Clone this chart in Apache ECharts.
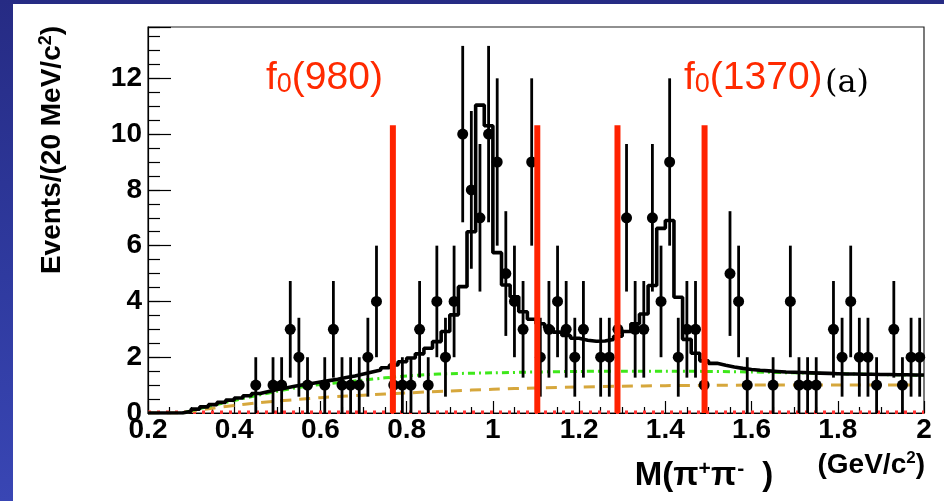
<!DOCTYPE html>
<html><head><meta charset="utf-8">
<script src="https://cdn.jsdelivr.net/npm/echarts/dist/echarts.min.js"></script>
<style>
html,body{margin:0;padding:0;}
body{width:944px;height:501px;overflow:hidden;position:relative;background:linear-gradient(180deg,#262b84 0%,#2f3a9f 55%,#3946b4 100%);}
#panel{position:absolute;left:13px;top:4px;width:931px;height:497px;background:#fff;}
#chart{position:absolute;left:0;top:0;width:944px;height:501px;}
</style></head>
<body><div id="panel"></div><div id="chart"></div>
<script>
// ---- data ----
const binWidth = 0.02;
const xMin = 0.2, xMax = 2.0;
const yMax = 13.84;
const xTickLabels = ['0.2','0.4','0.6','0.8','1','1.2','1.4','1.6','1.8','2'];
const yTickLabels = ['0','2','4','6','8','10','12'];
// measured points (bin centres, events per bin)
const dataX = [0.45,0.49,0.51,0.53,0.55,0.57,0.61,0.63,0.65,0.67,0.69,0.71,0.73,0.77,0.79,0.81,0.83,0.85,0.87,0.89,0.91,0.93,0.95,0.97,0.99,1.01,1.03,1.05,1.07,1.09,1.11,1.13,1.15,1.17,1.19,1.21,1.25,1.27,1.29,1.31,1.33,1.35,1.37,1.39,1.41,1.43,1.45,1.47,1.49,1.55,1.57,1.59,1.65,1.69,1.71,1.73,1.75,1.79,1.81,1.83,1.85,1.87,1.89,1.93,1.95,1.97,1.99];
const dataY = [1,1,1,3,2,1,1,3,1,1,1,2,4,1,1,1,3,1,4,2,4,10,8,7,10,9,5,4,3,9,2,3,4,3,2,3,2,2,3,7,3,3,7,4,9,2,3,3,1,5,4,1,1,4,1,1,1,3,2,4,2,2,1,3,1,2,2];
// total fit, one value per 20 MeV bin from 0.20 to 2.00
const fitTotal = [0,0,0,0,0.06,0.14,0.22,0.30,0.38,0.46,0.54,0.62,0.70,0.77,0.84,0.90,0.96,1.01,1.06,1.11,
  1.16,1.21,1.27,1.33,1.40,1.47,1.54,1.62,1.72,1.84,1.97,2.12,2.32,2.56,2.92,3.52,4.53,6.5,11.04,10.3,
  5.75,4.59,4.17,3.63,3.36,3.2,3.05,2.9,2.78,2.68,2.61,2.57,2.58,2.64,2.75,2.92,3.2,3.55,4.57,6.62,
  6.9,4.15,2.64,2.14,1.87,1.78,1.71,1.65,1.60,1.56,1.53,1.51,1.49,1.47,1.46,1.45,1.44,1.43,1.42,1.41,
  1.40,1.40,1.39,1.39,1.38,1.38,1.37,1.37,1.36,1.36];
// green dash-dot component
const bkgX = [0.28,0.30,0.35,0.40,0.45,0.50,0.55,0.60,0.65,0.70,0.75,0.80,0.85,0.90,1.00,1.10,1.20,1.30,1.40,1.50,1.60,1.70,1.80,1.90,2.00];
const bkgY = [0,0.08,0.27,0.45,0.62,0.78,0.92,1.02,1.10,1.18,1.26,1.33,1.38,1.41,1.44,1.47,1.49,1.50,1.50,1.49,1.47,1.44,1.41,1.38,1.35];
// gold dashed component
const nrX = [0.20,0.27,0.30,0.35,0.40,0.45,0.50,0.55,0.60,0.65,0.70,0.75,0.80,0.90,1.00,1.10,1.20,1.30,1.40,1.50,1.60,1.70,1.80,1.97];
const nrY = [0,0,0.06,0.17,0.27,0.36,0.43,0.49,0.55,0.60,0.64,0.68,0.72,0.79,0.85,0.90,0.93,0.96,0.98,0.99,1.0,1.0,1.0,1.0];
// red dotted component (flat at zero)
const zeroX = [0.20,2.00];
const zeroY = [0.03,0.03];
// red vertical region markers
const regionX = [0.768,1.103,1.289,1.491];
const regionTop = 10.32;

// ---- build ----
const FONT = 'Liberation Sans';
const pts = dataX.map((x,i)=>[x,dataY[i]]);
const errs = dataX.map((x,i)=>[x,dataY[i]-Math.sqrt(dataY[i]),dataY[i]+Math.sqrt(dataY[i])]);
const fitData = fitTotal.map((v,i)=>[xMin+i*binWidth, v]);
fitData.push([xMax, fitTotal[fitTotal.length-1]]);
const bkgData = bkgX.map((x,i)=>[x,bkgY[i]]);
const nrData = nrX.map((x,i)=>[x,nrY[i]]);
const zeroData = zeroX.map((x,i)=>[x,zeroY[i]]);
const regionData = regionX.map(x=>[x,0,regionTop]);

const chart = echarts.init(document.getElementById('chart'), null, {renderer:'canvas'});
const vline = (color,w)=> (params, api) => {
  const a = api.coord([api.value(0), api.value(1)]);
  const b = api.coord([api.value(0), api.value(2)]);
  return {type:'line', shape:{x1:a[0],y1:a[1],x2:b[0],y2:b[1]}, style:{stroke:color, lineWidth:w, lineCap:'butt', opacity:1}};
};
const option = {
  animation:false,
  backgroundColor:'transparent',
  grid:{left:148,right:20,top:27,bottom:88,containLabel:false,show:true,borderColor:'#222',borderWidth:1.2,backgroundColor:'transparent'},
  xAxis:{type:'value',min:xMin,max:xMax,interval:0.2,
    axisLine:{show:true,onZero:false,lineStyle:{color:'#000',width:1.2}},
    axisTick:{show:true,inside:true,length:12,lineStyle:{color:'#000',width:1.2}},
    minorTick:{show:true,splitNumber:4,length:6,lineStyle:{color:'#000',width:1.2}},
    splitLine:{show:false},
    axisLabel:{margin:3,color:'#000',fontFamily:FONT,fontWeight:'bold',fontSize:28,
      formatter:(v)=>{const i=Math.round((v-xMin)/0.2);return Math.abs(v-(xMin+i*0.2))<1e-6&&xTickLabels[i]!==undefined?xTickLabels[i]:'';}}
  },
  yAxis:[{type:'value',min:0,max:yMax,interval:2,
    axisLine:{show:true,lineStyle:{color:'#000',width:1.2}},
    axisTick:{show:true,inside:true,length:23,lineStyle:{color:'#000',width:1.2}},
    splitLine:{show:false},
    axisLabel:{margin:6,color:'#000',fontFamily:FONT,fontWeight:'bold',fontSize:28,
      formatter:(v)=>{const i=Math.round(v/2);return Math.abs(v-i*2)<1e-6&&yTickLabels[i]!==undefined?yTickLabels[i]:'';}}
  },{type:'value',min:0,max:yMax,interval:0.5,position:'left',
    axisLine:{show:false},axisLabel:{show:false},splitLine:{show:false},
    axisTick:{show:true,inside:true,length:12,lineStyle:{color:'#000',width:1.2}}
  }],
  series:[
    {type:'line',data:zeroData,showSymbol:false,z:2,lineStyle:{color:'#ff3030',width:3.5,type:[3,6],opacity:1}},
    {type:'line',data:nrData,smooth:0.3,showSymbol:false,z:3,lineStyle:{color:'#d6a73c',width:3,type:[11,8],opacity:1}},
    {type:'line',data:bkgData,smooth:0.3,showSymbol:false,z:3,lineStyle:{color:'#3ee81a',width:3,type:[7,4,2,4],opacity:1}},
    {type:'line',data:fitData,step:'end',showSymbol:false,z:4,lineStyle:{color:'#000',width:3.6,opacity:1}},
    {type:'custom',data:errs,encode:{x:0,y:[1,2]},z:5,renderItem:vline('#000',2.8)},
    {type:'scatter',data:pts,symbol:'circle',symbolSize:11,z:6,itemStyle:{color:'#000',opacity:1}},
    {type:'custom',data:regionData,encode:{x:0,y:[1,2]},z:7,renderItem:vline('#ff2200',6)}
  ],
  graphic:[
    {type:'text',x:266,y:78,z:100,style:{text:'{m|f}{s|0}{m|(980)}',align:'left',verticalAlign:'middle',
      rich:{m:{fontFamily:FONT,fontSize:39,lineHeight:40,fill:'#ff2a00'},s:{fontFamily:FONT,fontSize:27,lineHeight:14,verticalAlign:'bottom',fill:'#ff2a00'}}}},
    {type:'text',x:684,y:78,z:100,style:{text:'{m|f}{s|0}{m|(1370)}',align:'left',verticalAlign:'middle',
      rich:{m:{fontFamily:FONT,fontSize:39,lineHeight:40,fill:'#ff2a00'},s:{fontFamily:FONT,fontSize:27,lineHeight:14,verticalAlign:'bottom',fill:'#ff2a00'}}}},
    {type:'text',x:825,y:84,z:100,style:{text:'(a)',align:'left',verticalAlign:'middle',fontFamily:'DejaVu Serif',fontSize:32,fill:'#000'}},
    {type:'text',x:52,y:150,rotation:Math.PI/2,z:100,style:{text:'{m|Events/(20 MeV/c}{s|2}{m|)}',align:'center',verticalAlign:'middle',
      rich:{m:{fontFamily:FONT,fontWeight:'bold',fontSize:28,lineHeight:30,fill:'#000'},s:{fontFamily:FONT,fontWeight:'bold',fontSize:18,lineHeight:14,verticalAlign:'top',fill:'#000'}}}},
    {type:'text',x:704,y:476,z:100,style:{text:'{m|M(π}{s|+}{m|π}{t|-}{m|)}',align:'center',verticalAlign:'middle',
      rich:{m:{fontFamily:FONT,fontWeight:'bold',fontSize:33,lineHeight:34,fill:'#000'},
            s:{fontFamily:FONT,fontWeight:'bold',fontSize:21,lineHeight:14,verticalAlign:'top',fill:'#000'},
            t:{fontFamily:FONT,fontWeight:'bold',fontSize:21,lineHeight:14,verticalAlign:'top',fill:'#000',padding:[0,18,0,1]}}}},
    {type:'text',x:925,y:465,z:100,style:{text:'{m|(GeV/c}{s|2}{m|)}',align:'right',verticalAlign:'middle',
      rich:{m:{fontFamily:FONT,fontWeight:'bold',fontSize:28,lineHeight:30,fill:'#000'},s:{fontFamily:FONT,fontWeight:'bold',fontSize:17,lineHeight:14,verticalAlign:'top',fill:'#000'}}}}
  ]
};
chart.setOption(option);
</script></body></html>
